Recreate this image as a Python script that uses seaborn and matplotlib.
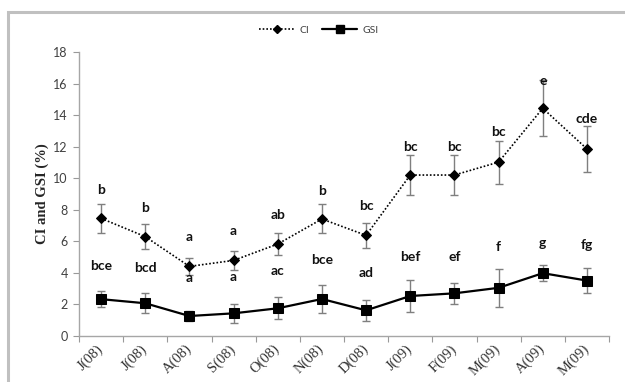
import matplotlib
matplotlib.use("Agg")
import matplotlib.pyplot as plt
import seaborn as sns
import pandas as pd
from matplotlib.patches import Rectangle
from matplotlib.lines import Line2D

# data
months = ['J(08)', 'J(08)', 'A(08)', 'S(08)', 'O(08)', 'N(08)', 'D(08)',
          'J(09)', 'F(09)', 'M(09)', 'A(09)', 'M(09)']
ci = [7.45, 6.29, 4.40, 4.78, 5.82, 7.41, 6.37, 10.2, 10.2, 11.02, 14.44, 11.86]
ci_err = [0.9, 0.77, 0.56, 0.6, 0.72, 0.92, 0.8, 1.28, 1.25, 1.37, 1.78, 1.45]
gsi = [2.32, 2.06, 1.25, 1.42, 1.74, 2.33, 1.61, 2.52, 2.69, 3.04, 3.97, 3.5]
gsi_err = [0.52, 0.63, 0.3, 0.6, 0.7, 0.9, 0.66, 1.0, 0.67, 1.22, 0.5, 0.82]
ci_letters = ['b', 'b', 'a', 'a', 'ab', 'b', 'bc', 'bc', 'bc', 'bc', 'e', 'cde']
ci_letter_y = [9.25, 8.13, 6.29, 6.65, 7.66, 9.21, 8.23, 11.98, 11.96, 12.93, 16.2, 13.74]
gsi_letters = ['bce', 'bcd', 'a', 'a', 'ac', 'bce', 'ad', 'bef', 'ef', 'f', 'g', 'fg']
gsi_letter_y = [4.45, 4.32, 3.68, 3.75, 4.11, 4.81, 3.96, 4.98, 4.98, 5.61, 5.9, 5.74]

df = pd.DataFrame({'pos': range(len(months)), 'CI': ci, 'GSI': gsi,
                   'ci_err': ci_err, 'gsi_err': gsi_err})

sns.set_style('white')
fig = plt.figure(figsize=(6.25, 3.82), dpi=100)
ax = fig.add_axes([0.1264, 0.1212, 0.848, 0.7422])

# outer chart frame (cut off on right and bottom like the reference)
fig.patches.append(Rectangle((8 / 625, -0.05), 1.0, 1 - 12 / 382 + 0.05,
                             transform=fig.transFigure, fill=False,
                             edgecolor='#c0c0c0', lw=2.2))

ax.errorbar(df['pos'], df['CI'], yerr=df['ci_err'], fmt='none',
            ecolor='#7f7f7f', elinewidth=1, capsize=3, capthick=1, zorder=2)
ax.errorbar(df['pos'], df['GSI'], yerr=df['gsi_err'], fmt='none',
            ecolor='#7f7f7f', elinewidth=1, capsize=3, capthick=1, zorder=2)

sns.lineplot(data=df, x='pos', y='CI', ax=ax, color='black', lw=1.2,
             linestyle=(0, (1, 1.2)), marker='D', markersize=5,
             markeredgecolor='black', zorder=3)
sns.lineplot(data=df, x='pos', y='GSI', ax=ax, color='black', lw=1.6,
             marker='s', markersize=7, markeredgecolor='black', zorder=3)

for i in range(len(months)):
    ax.text(i, ci_letter_y[i], ci_letters[i], ha='center', va='center',
            fontsize=10, fontweight='bold', family='Lato', color='#111111')
    ax.text(i, gsi_letter_y[i], gsi_letters[i], ha='center', va='center',
            fontsize=10, fontweight='bold', family='Lato', color='#111111')

ax.set_xlim(-0.5, len(months) - 0.5)
ax.set_ylim(0, 18)
ax.set_yticks(range(0, 19, 2))
ax.set_yticklabels([str(v) for v in range(0, 19, 2)], family='Lato',
                   fontsize=9, color='#404040')
ax.set_xticks([i + 0.5 for i in range(-1, len(months))], minor=False)
ax.set_xticklabels([])
ax.set_xticks(range(len(months)), minor=True)
ax.set_xticklabels(months, minor=True, rotation=45, ha='right', va='center',
                   rotation_mode='anchor', family='Liberation Serif',
                   fontsize=10.5, color='#333333')
ax.tick_params(axis='x', which='major', length=4, direction='out',
               color='#999999', bottom=True)
ax.tick_params(axis='x', which='minor', length=0, pad=8)
ax.tick_params(axis='y', length=4, direction='out', color='#999999',
               left=True, pad=4)

ax.set_xlabel('')
ax.set_ylabel('CI and GSI (%)', family='Liberation Serif', fontweight='bold',
              fontsize=10.5, labelpad=3)

for side in ['top', 'right']:
    ax.spines[side].set_visible(False)
for side in ['left', 'bottom']:
    ax.spines[side].set_color('#a6a6a6')
    ax.spines[side].set_linewidth(1)

handles = [Line2D([], [], color='black', lw=1.2, linestyle=(0, (1, 1.2)),
                  marker='D', markersize=4),
           Line2D([], [], color='black', lw=1.6, marker='s', markersize=6)]
fig.legend(handles, ['CI', 'GSI'], loc='center', bbox_to_anchor=(0.51, 0.921),
           ncol=2, frameon=False, handlelength=3.4, columnspacing=1.2,
           handletextpad=0.5, prop={'family': 'Lato', 'size': 7.5},
           labelcolor='#404040')

fig.savefig('out.png', dpi=100)
